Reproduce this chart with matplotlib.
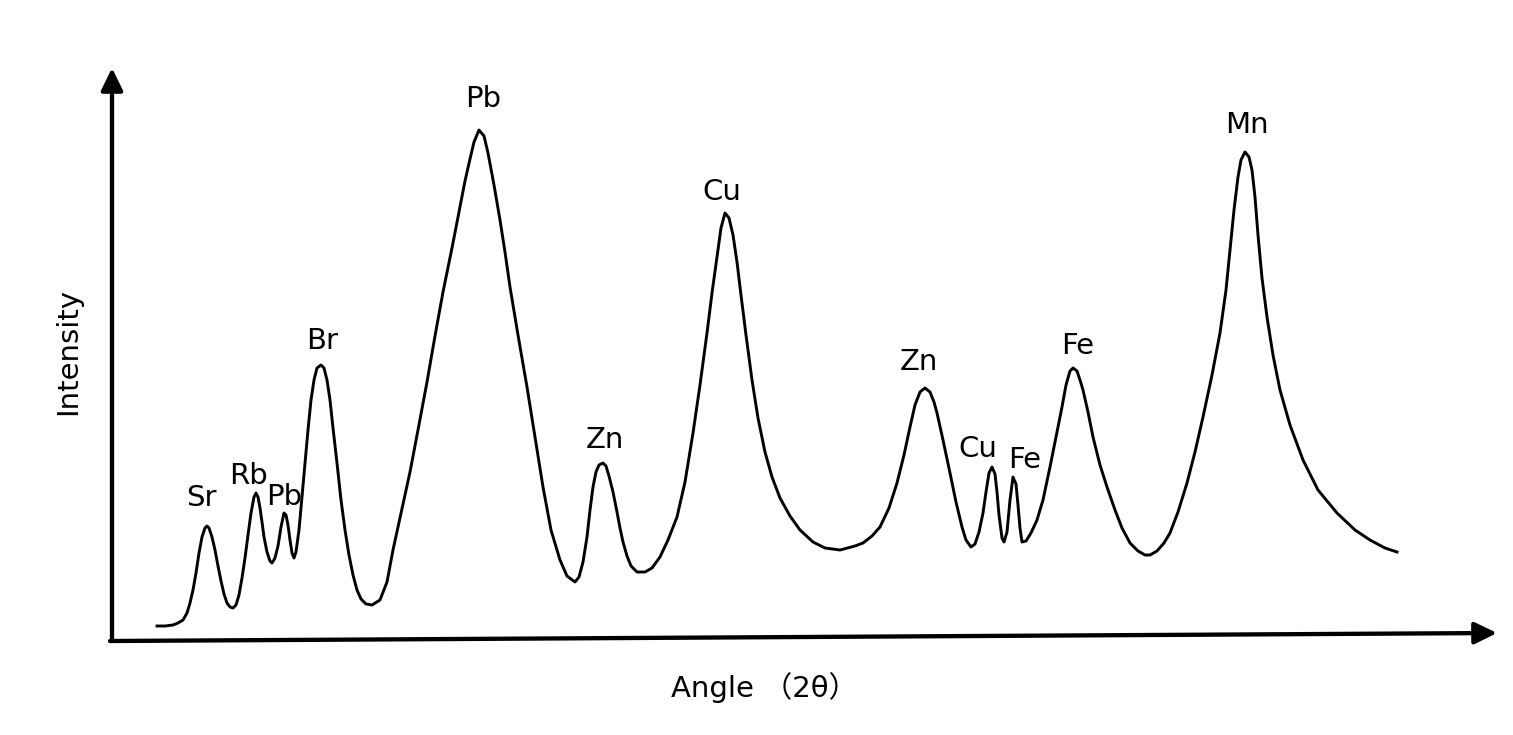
import matplotlib.pyplot as plt

plt.rcParams['font.family'] = ['DejaVu Sans', 'Noto Sans CJK SC']

# spectrum (arbitrary units)
angle = [45, 53, 61, 66, 71, 75, 78, 81, 84, 87, 90, 93, 95, 97, 100, 103, 106, 109, 112, 115,
         118, 121, 124, 127, 130, 133, 136, 139, 142, 144, 146, 148, 150, 152, 155, 158, 160,
         163, 166, 169, 172, 174, 176, 178, 180, 182, 184, 187, 190, 193, 196, 199, 202, 205,
         209, 212, 215, 218, 221, 225, 229, 233, 237, 241, 245, 249, 254, 260, 268, 275, 281,
         288, 298, 306, 315, 323, 331, 340, 348, 353, 358, 362, 367, 372, 376, 382, 388, 393,
         398, 406, 415, 423, 431, 439, 448, 455, 463, 467, 471, 475, 478, 481, 484, 487, 491,
         494, 497, 501, 505, 508, 511, 515, 519, 525, 533, 540, 548, 556, 565, 573, 581, 588,
         595, 600, 605, 609, 613, 617, 621, 625, 629, 634, 640, 646, 653, 660, 668, 678, 688,
         701, 713, 728, 743, 751, 760, 768, 777, 785, 792, 798, 803, 808, 813, 818, 822, 825,
         831, 838, 844, 850, 854, 859, 863, 867, 871, 874, 877, 880, 883, 885, 887, 890, 892,
         895, 898, 901, 904, 906, 908, 910, 914, 919, 925, 931, 938, 944, 950, 954, 958, 961,
         965, 968, 971, 976, 981, 988, 995, 1003, 1010, 1018, 1026, 1033, 1038, 1045, 1052,
         1058, 1066, 1075, 1083, 1091, 1100, 1108, 1114, 1118, 1122, 1126, 1129, 1133, 1137,
         1140, 1143, 1146, 1150, 1155, 1161, 1168, 1178, 1191, 1206, 1225, 1243, 1258, 1273, 1285]
intensity = [14, 14, 15, 17, 20, 27, 37, 50, 67, 87, 103, 112, 114, 112, 103, 90, 74, 59, 46, 37,
             33, 32, 35, 45, 62, 82, 105, 127, 143, 147, 143, 132, 118, 103, 88, 79, 77,
             82, 94, 113, 127, 125, 115, 100, 87, 82, 88, 110, 143, 177, 210, 240, 260, 272,
             275, 272, 260, 240, 212, 177, 140, 110, 85, 65, 50, 41, 36, 35, 40, 58, 90,
             122, 168, 210, 258, 304, 348, 392, 433, 459, 481, 498, 510, 504, 487, 455, 420, 388,
             353, 305, 253, 203, 153, 110, 80, 64, 58, 63, 78, 103, 130, 153, 168, 175, 177,
             174, 164, 148, 128, 112, 98, 84, 74, 68, 68, 72, 83, 100, 123, 158, 207, 255,
             307, 347, 383, 412, 427, 422, 405, 378, 345, 305, 260, 222, 188, 163, 142, 124, 110,
             98, 92, 90, 94, 97, 104, 113, 132, 157, 185, 213, 235, 248, 252, 248, 238, 227,
             200, 167, 138, 113, 100, 93, 96, 108, 127, 148, 167, 173, 166, 148, 125, 102, 98,
             108, 140, 163, 156, 135, 112, 98, 99, 107, 120, 140, 173, 203, 233, 255, 269, 272,
             269, 260, 250, 228, 203, 175, 153, 130, 112, 97, 89, 85, 85, 89, 97,
             107, 128, 157, 188, 223, 265, 307, 350, 390, 430, 463, 480, 488, 483,
             470, 443, 405, 362, 323, 285, 250, 215, 180, 150, 127, 110, 100, 92, 88]

# peak labels and where they sit
elements = ['Sr', 'Rb', 'Pb', 'Br', 'Pb', 'Zn', 'Cu', 'Zn', 'Cu', 'Fe', 'Fe', 'Mn']
label_angle = [89, 136, 172, 210, 371, 493, 610, 807, 866, 913, 966, 1135]
label_int = [142, 164, 143, 299, 541, 200, 448, 278, 191, 180, 294, 515]

fig = plt.figure(figsize=(15.13, 7.35), dpi=100)
ax = fig.add_axes([0, 0, 1, 1])
ax.set_xlim(-112, 1401)
ax.set_ylim(-95, 640)
ax.axis('off')

ax.plot(angle, intensity, color='black', lw=2.1, solid_joinstyle='round')

for name, x, y in zip(elements, label_angle, label_int):
    ax.text(x, y, name, fontsize=21, ha='center', va='center')

# hand drawn axes with arrow heads
arrow = dict(arrowstyle='-|>,head_length=0.45,head_width=0.22', color='black',
             lw=3.1, mutation_scale=30, shrinkA=0, shrinkB=0)
ax.annotate('', xy=(0, 572), xytext=(0, -1), arrowprops=arrow)
ax.annotate('', xy=(1385, 7), xytext=(-2, -1), arrowprops=arrow)

ax.text(559, -48, 'Angle （2θ）', fontsize=21, ha='left', va='center')
ax.text(-44, 289, 'Intensity', fontsize=21, ha='center', va='center', rotation=90)

fig.savefig('out.png', dpi=100)
